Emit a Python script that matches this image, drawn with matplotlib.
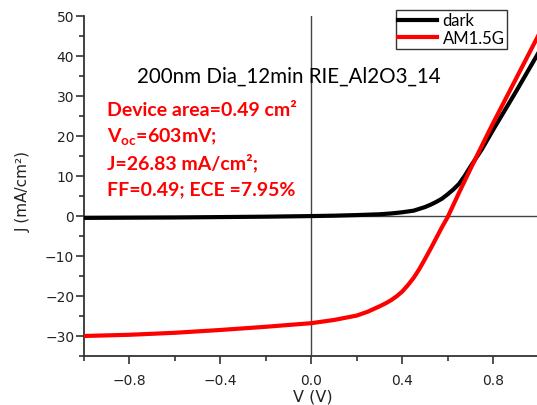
import matplotlib
matplotlib.use("Agg")
import matplotlib.pyplot as plt
from matplotlib.ticker import MultipleLocator

# ---- data ----
V_dark = [-1.0, -0.8, -0.6, -0.4, -0.2, 0.0, 0.1, 0.2, 0.3, 0.35, 0.4, 0.45,
          0.5, 0.525, 0.55, 0.575, 0.6, 0.625, 0.65, 0.675, 0.7, 0.75, 0.8, 0.9, 1.0]
J_dark = [-0.5, -0.45, -0.4, -0.3, -0.2, -0.05, 0.05, 0.2, 0.4, 0.6, 0.9, 1.3,
          2.2, 2.8, 3.5, 4.3, 5.4, 6.6, 8.0, 10.0, 12.3, 16.6, 21.5, 31.0, 40.8]

V_light = [-1.0, -0.8, -0.6, -0.4, -0.2, 0.0, 0.1, 0.2, 0.25, 0.3, 0.325, 0.35,
           0.375, 0.4, 0.425, 0.45, 0.475, 0.5, 0.525, 0.55, 0.575, 0.6, 0.65,
           0.7, 0.75, 0.8, 0.9, 1.0]
J_light = [-30.0, -29.7, -29.2, -28.5, -27.7, -26.8, -26.0, -24.9, -23.9, -22.6,
           -21.9, -21.1, -20.1, -18.9, -17.3, -15.5, -13.3, -10.8, -8.2, -5.5,
           -2.8, -0.3, 5.8, 11.7, 17.5, 23.2, 34.2, 45.2]

series_labels = ["dark", "AM1.5G"]
x_ticks = [-0.8, -0.4, 0.0, 0.4, 0.8]
y_ticks = [-30, -20, -10, 0, 10, 20, 30, 40, 50]

title_text = "200nm Dia_12min RIE_Al2O3_14"
info_lines = ["Device area=0.49 cm²",
              r"V$_{\mathregular{oc}}$=603mV;",
              "J=26.83 mA/cm²;",
              "FF=0.49; ECE =7.95%"]

W, H = 537, 406
fig = plt.figure(figsize=(W / 100, H / 100), dpi=100)
ax = fig.add_axes([84 / W, (H - 357) / H, 1.003 - 84 / W, (357 - 16.7) / H])

ax.axvline(0, color="#444444", lw=1.0, zorder=1)
ax.axhline(0, color="#444444", lw=1.0, zorder=1)
ax.plot(V_dark, J_dark, color="black", lw=3.0, label=series_labels[0], zorder=3,
        solid_joinstyle="round")
ax.plot(V_light, J_light, color="#ff0000", lw=3.0, label=series_labels[1], zorder=4,
        solid_joinstyle="round")

ax.set_xlim(-1.0, 1.0)
ax.set_ylim(-35, 50)
ax.set_xticks(x_ticks)
ax.set_xticklabels([f"{v:.1f}".replace("-", "\u2212") for v in x_ticks])
ax.set_yticks(y_ticks)
ax.xaxis.set_minor_locator(MultipleLocator(0.2))
ax.yaxis.set_minor_locator(MultipleLocator(5))

for s in ["top", "right"]:
    ax.spines[s].set_visible(False)
for s in ["left", "bottom"]:
    ax.spines[s].set_color("#333333")
    ax.spines[s].set_linewidth(1.3)

ax.tick_params(which="major", direction="out", length=6, width=1.2, color="#333333",
               labelsize=10, labelcolor="#222222")
ax.tick_params(which="minor", direction="out", length=3.5, width=1.2, color="#333333")
ax.tick_params(axis="y", which="major", pad=1)
ax.tick_params(axis="x", which="major", pad=6)

fig.text(313 / W, 1 - 405 / H, "V (V)", ha="center", va="bottom", fontsize=11.5,
         color="#222222")
fig.text(23 / W, 1 - 232 / H, "J (mA/cm²)", ha="center", va="bottom", rotation=90,
         fontsize=11, color="#222222")

fig.text(136.7 / W, 1 - 76.7 / H, title_text, ha="left", va="center",
         fontsize=14.8, family=["Lato", "DejaVu Sans"], color="black")

ys = [110, 137, 163, 190]
for t, y in zip(info_lines, ys):
    fig.text(107.3 / W, 1 - y / H, t, ha="left", va="center", fontsize=14,
             fontweight="bold", family=["Lato", "DejaVu Sans"], color="#ff0000")

leg = ax.legend(loc="upper right", bbox_to_anchor=(507 / W, 1 - 11 / H),
                bbox_transform=fig.transFigure, borderaxespad=0,
                frameon=True, fancybox=False, edgecolor="black",
                prop={"family": ["Lato", "DejaVu Sans"], "size": 12},
                handlelength=2.3, handletextpad=0.35, borderpad=0.15,
                labelspacing=0.1)
leg.get_frame().set_linewidth(1.0)

fig.savefig("out.png", dpi=100)
